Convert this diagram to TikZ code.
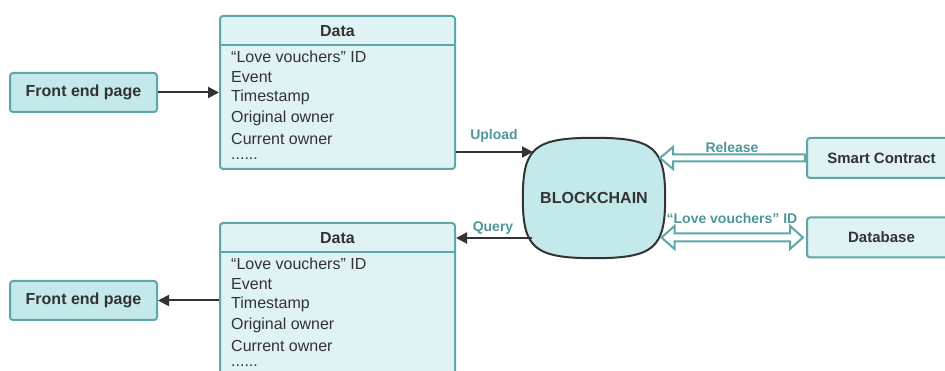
\documentclass[tikz,border=0pt]{standalone}
\usepackage{fontspec}
\setmainfont{Liberation Sans}
\usetikzlibrary{calc,arrows.meta}
\definecolor{tealline}{HTML}{5FA6A8}
\definecolor{tealtext}{HTML}{4E9799}
\definecolor{fillA}{HTML}{C4E9EA}
\definecolor{fillB}{HTML}{DFF2F4}
\definecolor{ink}{HTML}{333333}
\tikzset{
  box/.style={draw=tealline, line width=2pt, rounded corners=3pt, text=ink, inner sep=0pt,
    font=\bfseries\fontsize{16}{19}\selectfont},
  frontend/.style={box, fill=fillA, minimum width=147pt, minimum height=39pt},
  sidebox/.style={box, fill=fillB, minimum width=149pt, minimum height=40pt,
    font=\bfseries\fontsize{15}{18}\selectfont},
  databox/.style={draw=tealline, line width=2pt, rounded corners=3pt, fill=fillB,
    minimum width=235pt, inner sep=0pt},
  header/.style={text=ink, inner sep=0pt, font=\bfseries\fontsize{16}{19}\selectfont},
  datarow/.style={anchor=west, text=ink, inner sep=0pt, font=\fontsize{16}{19}\selectfont},
  lbl/.style={text=tealtext, inner sep=0pt, font=\bfseries\fontsize{14}{17}\selectfont},
  conn/.style={draw=ink, line width=2pt, -{Triangle[length=11pt,width=11pt]}},
  hollow/.style={draw=tealline, line width=2pt, fill=white, line join=miter},
}
\begin{document}
\begin{tikzpicture}[x=1pt,y=-1pt]
\useasboundingbox (0,0) rectangle (945,371);
\clip (0,0) rectangle (945,371);

% front end pages
\node[frontend] (feA) at (83.5,92.5) {Front end page};
\node[frontend] (feB) at (83.5,300.5) {Front end page};

% data boxes
\node[databox, minimum height=153pt] (dataA) at (337.5,92.5) {};
\draw[tealline, line width=2pt] ($(dataA.north west)+(0,30)$) -- ($(dataA.north east)+(0,30)$);
\node[header] (hdrA) at (337.5,31) {Data};
\node[datarow] (a1) at (231,57) {“Love vouchers” ID};
\node[datarow] (a2) at (231,77.4) {Event};
\node[datarow] (a3) at (231,97.8) {Timestamp};
\node[datarow] (a4) at (231,118.2) {Original owner};
\node[datarow] (a5) at (231,138.6) {Current owner};
\node[datarow] (a6) at (231,159) {......};

\node[databox, minimum height=160pt] (dataB) at (337.5,303) {};
\draw[tealline, line width=2pt] ($(dataB.north west)+(0,30)$) -- ($(dataB.north east)+(0,30)$);
\node[header] (hdrB) at (337.5,238.5) {Data};
\node[datarow] (b1) at (231,264) {“Love vouchers” ID};
\node[datarow] (b2) at (231,284.4) {Event};
\node[datarow] (b3) at (231,304.8) {Timestamp};
\node[datarow] (b4) at (231,325.2) {Original owner};
\node[datarow] (b5) at (231,345.6) {Current owner};
\node[datarow] (b6) at (231,366) {......};

% blockchain
\node[minimum width=142pt, minimum height=120pt, inner sep=0pt] (bc) at (594,198) {};
\draw[draw=ink, line width=2pt, fill=fillA]
  (bc.north) .. controls ($(bc.north)+(60,0)$) and ($(bc.east)+(0,-50)$) .. (bc.east)
  .. controls ($(bc.east)+(0,50)$) and ($(bc.south)+(60,0)$) .. (bc.south)
  .. controls ($(bc.south)+(-60,0)$) and ($(bc.west)+(0,50)$) .. (bc.west)
  .. controls ($(bc.west)+(0,-50)$) and ($(bc.north)+(-60,0)$) .. (bc.north) -- cycle;
\node[header] (bctext) at (bc) {BLOCKCHAIN};

% right boxes
\node[sidebox] (sc) at (881.5,158) {Smart Contract};
\node[sidebox] (db) at (881.5,237.5) {Database};

% connectors
\draw[conn] (feA.east) -- (feA.east -| dataA.west);
\draw[conn] (feB.east -| dataB.west) -- (feB.east);

\coordinate (upTip) at (533,152);
\draw[conn] (upTip -| dataA.east) -- (upTip);
\node[lbl] (lup) at (494,136) {Upload};

\coordinate (qTail) at (532,238);
\draw[conn] (qTail) -- (qTail -| dataB.east);
\node[lbl] (lq) at (493,228) {Query};

% release hollow arrow
\coordinate (rTip) at (660,158);
\coordinate (rTail) at (sc.west);
\draw[hollow] (rTip) -- ($(rTip)+(13,-11)$) -- ($(rTip)+(13,-3.5)$) -- ($(rTail |- rTip)+(-1,-3.5)$)
  -- ($(rTail |- rTip)+(-1,3.5)$) -- ($(rTip)+(13,3.5)$) -- ($(rTip)+(13,11)$) -- cycle;
\node[lbl] (lrel) at (732,147) {Release};

% double hollow arrow
\coordinate (dL) at (661.5,237.5);
\coordinate (dR) at ($(db.west)+(-3,0)$);
\draw[hollow] (dL) -- ($(dL)+(13,-11.5)$) -- ($(dL)+(13,-4)$) -- ($(dR)+(-13,-4)$) -- ($(dR)+(-13,-11.5)$)
  -- (dR) -- ($(dR)+(-13,11.5)$) -- ($(dR)+(-13,4)$) -- ($(dL)+(13,4)$) -- ($(dL)+(13,11.5)$) -- cycle;
\node[lbl] (lid) at (732,218) {“Love vouchers” ID};
\end{tikzpicture}
\end{document}
